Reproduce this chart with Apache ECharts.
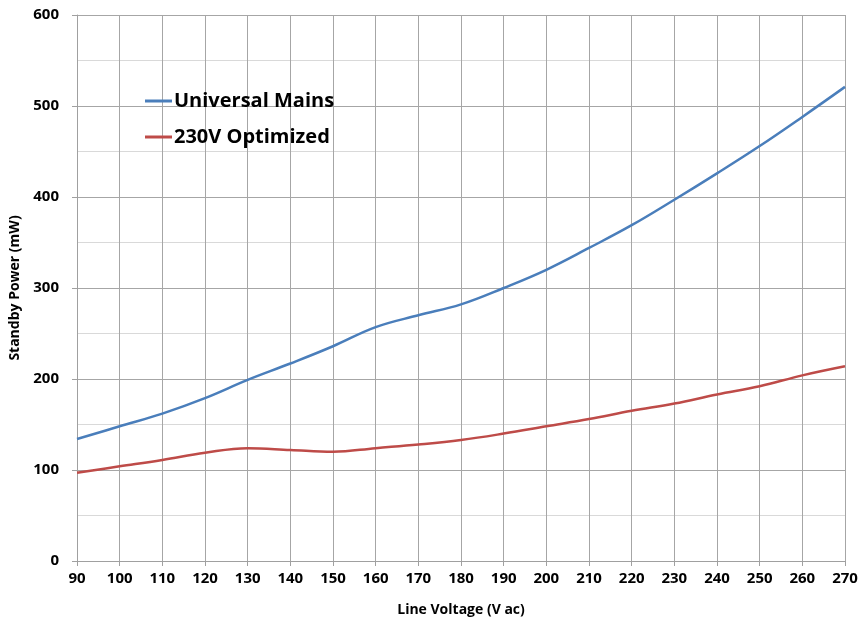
<!DOCTYPE html>
<html>
<head>
<meta charset="utf-8">
<script src="https://cdn.jsdelivr.net/npm/echarts@6/dist/echarts.min.js"></script>
<style>html,body{margin:0;padding:0;background:#fff}#c{width:861px;height:624px}</style>
</head>
<body>
<div id="c"></div>
<script>
var voltages = [90,100,110,120,130,140,150,160,170,180,190,200,210,220,230,240,250,260,270];
var universalMains = [134,148,162,179,199,217,236,257,270,282,300,320,344,369,397,426,456,488,521];
var optimized230V = [97,104,111,119,124,122,120,124,128,133,140,148,156,165,173,183,192,204,214];
var seriesNames = ['Universal Mains','230V Optimized'];

function pairs(xs, ys){ return xs.map(function(x,i){ return [x, ys[i]]; }); }

var font = '"Open Sans", "Liberation Sans", sans-serif';
var chart = echarts.init(document.getElementById('c'));
chart.setOption({
  animation: false,
  backgroundColor: '#ffffff',
  grid: {left: 77, right: 16, top: 15, bottom: 63},
  legend: {
    left: 145, top: 91, orient: 'vertical', itemGap: 16, padding: 0,
    itemWidth: 27, itemHeight: 3, icon: 'rect',
    textStyle: {fontFamily: font, fontWeight: 'bold', fontSize: 20, color: '#000', padding: [0,0,0,-3]},
    data: seriesNames
  },
  xAxis: {
    type: 'value', min: 90, max: 270, interval: 10,
    name: 'Line Voltage (V ac)', nameLocation: 'middle', nameGap: 42,
    nameTextStyle: {fontFamily: font, fontWeight: 'bold', fontSize: 14, color: '#000'},
    axisLine: {lineStyle: {color: '#a0a0a0', width: 1}},
    axisTick: {show: true, length: 5, lineStyle: {color: '#a0a0a0'}},
    axisLabel: {fontFamily: font, fontWeight: 'bold', fontSize: 15, color: '#000', margin: 10},
    splitLine: {show: true, lineStyle: {color: '#a6a6a6', width: 1}}
  },
  yAxis: {
    type: 'value', min: 0, max: 600, interval: 100,
    name: 'Standby Power (mW)', nameLocation: 'middle', nameGap: 54,
    nameTextStyle: {fontFamily: font, fontWeight: 'bold', fontSize: 14, color: '#000'},
    axisLine: {show: true, lineStyle: {color: '#a0a0a0', width: 1}},
    axisTick: {show: true, length: 5, lineStyle: {color: '#a0a0a0'}},
    axisLabel: {fontFamily: font, fontWeight: 'bold', fontSize: 15, color: '#000', margin: 18},
    splitLine: {show: true, lineStyle: {color: '#a6a6a6', width: 1}},
    minorTick: {show: false, splitNumber: 2},
    minorSplitLine: {show: true, lineStyle: {color: '#d9d9d9', width: 1}}
  },
  series: [
    {name: seriesNames[0], type: 'line', smooth: 0.4, showSymbol: false, symbol: 'none',
     data: pairs(voltages, universalMains), lineStyle: {color: '#4a7ebb', width: 2.5}, itemStyle: {color: '#4a7ebb'}},
    {name: seriesNames[1], type: 'line', smooth: 0.4, showSymbol: false, symbol: 'none',
     data: pairs(voltages, optimized230V), lineStyle: {color: '#be4b48', width: 2.5}, itemStyle: {color: '#be4b48'}}
  ]
});
</script>
</body>
</html>
